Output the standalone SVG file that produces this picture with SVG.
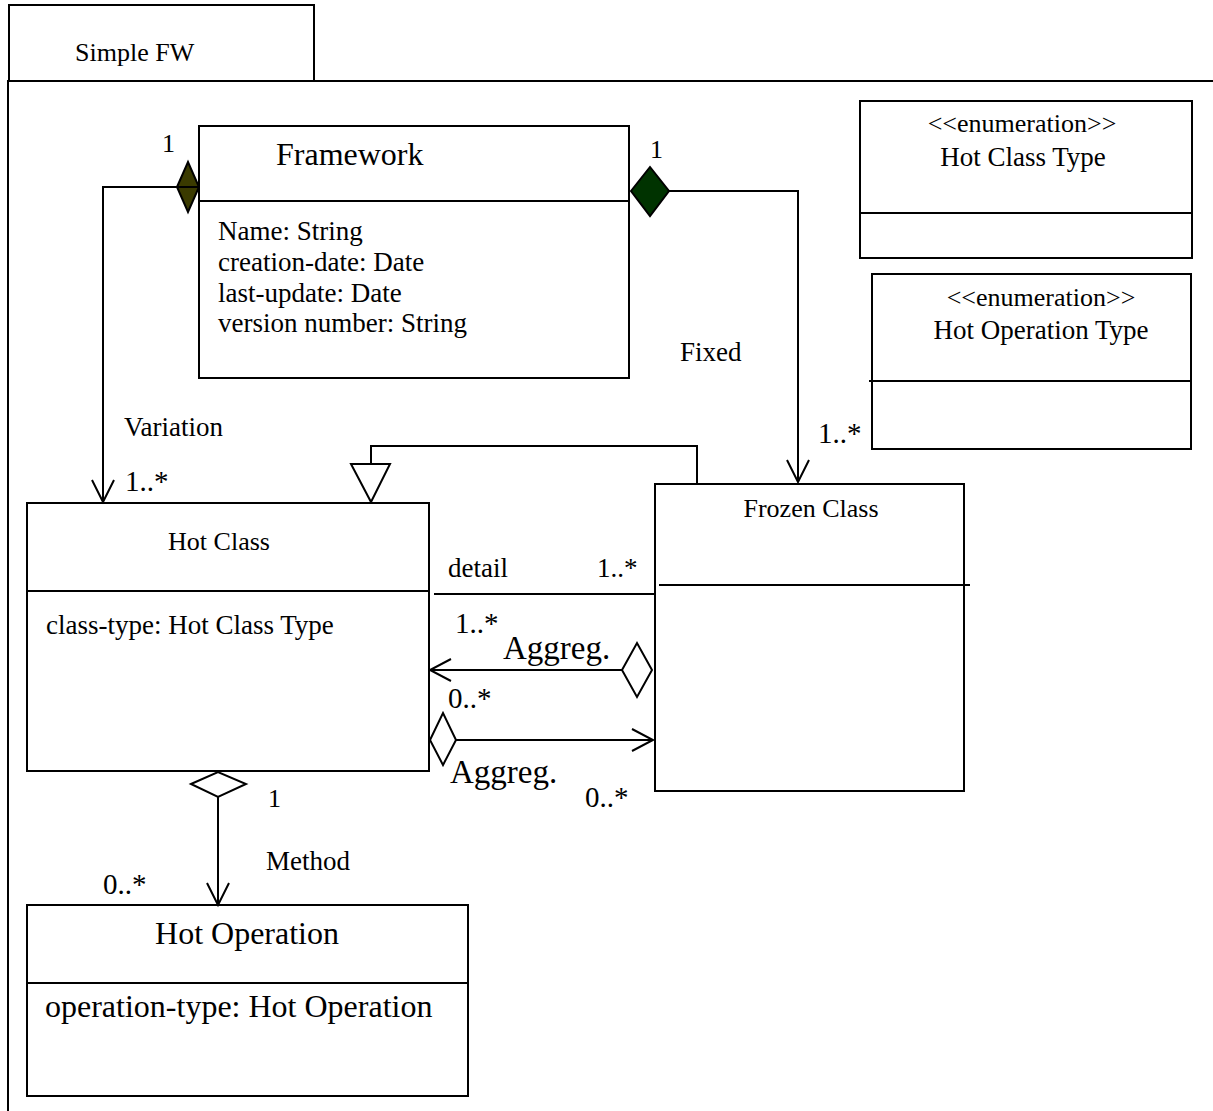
<svg xmlns="http://www.w3.org/2000/svg" width="1213" height="1111" viewBox="0 0 1213 1111">
<style>
.b{fill:#fff;stroke:#000;stroke-width:2}
.l{fill:none;stroke:#000;stroke-width:2}
text{font-family:"Liberation Serif","Times New Roman",serif;fill:#000}
.s20{font-size:26px}.s22{font-size:27px}.s24{font-size:29px}.s26{font-size:33px}.s28{font-size:32px}
</style>
<rect width="1213" height="1111" fill="#fff"/>
<g id="package">
<rect class="b" x="9" y="5" width="305" height="76"/>
<text class="s20" x="75" y="61">Simple FW</text>
<path class="l" d="M8,1111 V81 H1213"/>
</g>
<g id="framework">
<rect class="b" x="199" y="126" width="430" height="252"/>
<line class="l" x1="199" y1="201" x2="629" y2="201"/>
<text class="s28" x="276" y="165">Framework</text>
<text class="s22" x="218" y="240">Name: String</text>
<text class="s22" x="218" y="271">creation-date: Date</text>
<text class="s22" x="218" y="302">last-update: Date</text>
<text class="s22" x="218" y="332">version number: String</text>
</g>
<g id="enum-hot-class-type">
<rect class="b" x="860" y="101" width="332" height="157"/>
<line class="l" x1="860" y1="213" x2="1192" y2="213"/>
<text class="s20" x="1022" y="132" text-anchor="middle">&lt;&lt;enumeration&gt;&gt;</text>
<text class="s22" x="1023" y="166" text-anchor="middle">Hot Class Type</text>
</g>
<g id="enum-hot-operation-type">
<rect class="b" x="872" y="274" width="319" height="175"/>
<line class="l" x1="869" y1="381" x2="1191" y2="381"/>
<text class="s20" x="1041" y="306" text-anchor="middle">&lt;&lt;enumeration&gt;&gt;</text>
<text class="s22" x="1041" y="339" text-anchor="middle">Hot Operation Type</text>
</g>
<g id="hot-class">
<rect class="b" x="27" y="503" width="402" height="268"/>
<line class="l" x1="27" y1="591" x2="429" y2="591"/>
<text class="s20" x="219" y="550" text-anchor="middle">Hot Class</text>
<text class="s22" x="46" y="634">class-type: Hot Class Type</text>
</g>
<g id="frozen-class">
<rect class="b" x="655" y="484" width="309" height="307"/>
<line class="l" x1="659" y1="585" x2="970" y2="585"/>
<text class="s20" x="811" y="517" text-anchor="middle">Frozen Class</text>
</g>
<g id="hot-operation">
<rect class="b" x="27" y="905" width="441" height="191"/>
<line class="l" x1="27" y1="983" x2="468" y2="983"/>
<text class="s28" x="247" y="944" text-anchor="middle">Hot Operation</text>
<text class="s28" x="45" y="1017">operation-type: Hot Operation</text>
</g>
<g id="connectors">
<path class="l" d="M199,187 H103 V502"/>
<path class="l" d="M92,480 L103,502 L114,480"/>
<polygon points="177,187 188,162 199,187 188,212" fill="#3a3a00" stroke="#000" stroke-width="2"/>
<line class="l" x1="177" y1="187" x2="199" y2="187"/>
<text class="s20" x="162" y="152">1</text>
<text class="s22" x="124" y="436">Variation</text>
<text class="s24" x="125" y="491">1..*</text>
<path class="l" d="M669,191 H798 V482"/>
<path class="l" d="M787,460 L798,482 L809,460"/>
<polygon points="631,191 650,167 669,191 650,216" fill="#003300" stroke="#000" stroke-width="2"/>
<text class="s20" x="650" y="158">1</text>
<text class="s22" x="680" y="361">Fixed</text>
<text class="s24" x="818" y="443">1..*</text>
<path class="l" d="M697,484 V446 H371 V464"/>
<polygon class="b" points="351,464 390,464 371,502"/>
<line class="l" x1="434" y1="594" x2="655" y2="594"/>
<text class="s22" x="448" y="577">detail</text>
<text class="s22" x="597" y="577">1..*</text>
<line class="l" x1="430" y1="670" x2="622" y2="670"/>
<path class="l" d="M451,659 L430,670 L451,681"/>
<polygon class="b" points="622,670 637,643 652,670 637,697"/>
<text class="s24" x="455" y="633">1..*</text>
<text class="s26" x="503" y="659">Aggreg.</text>
<line class="l" x1="456" y1="740" x2="653" y2="740"/>
<path class="l" d="M632,729 L653,740 L632,751"/>
<polygon class="b" points="430,740 443,713 456,740 443,765"/>
<text class="s24" x="448" y="708">0..*</text>
<text class="s26" x="450" y="783">Aggreg.</text>
<text class="s24" x="585" y="807">0..*</text>
<line class="l" x1="218" y1="797" x2="218" y2="905"/>
<path class="l" d="M207,883 L218,905 L229,883"/>
<polygon class="b" points="191,784 218,772 246,784 218,797"/>
<text class="s20" x="268" y="807">1</text>
<text class="s22" x="266" y="870">Method</text>
<text class="s24" x="103" y="894">0..*</text>
</g>
</svg>
